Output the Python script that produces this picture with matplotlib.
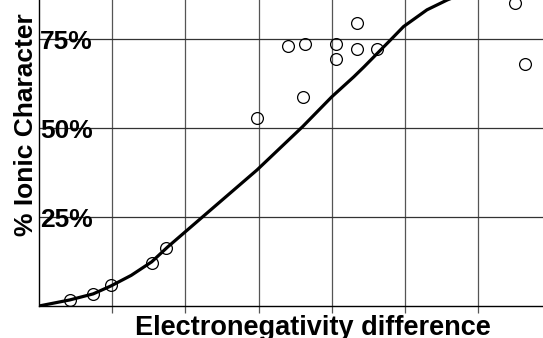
import matplotlib
matplotlib.use("Agg")
from matplotlib import pyplot as plt
import numpy as np

# measured compounds (electronegativity difference, % ionic character)
pts_x = [0.21, 0.37, 0.49, 0.77, 0.87, 1.49, 1.80, 1.70, 1.82, 2.03, 2.03,
         2.17, 2.17, 2.31, 3.25, 3.32]
pts_y = [1.7, 3.3, 5.9, 12.0, 16.4, 52.8, 58.6, 72.9, 73.6, 73.6, 69.2,
         79.3, 72.1, 72.1, 84.9, 67.9]

# the trend curve
curve_x = [0.0, 0.21, 0.37, 0.49, 0.63, 0.77, 0.88, 1.12, 1.49, 1.80, 2.00,
           2.15, 2.22, 2.40, 2.49, 2.65, 2.79, 2.95]
curve_y = [0.0, 1.7, 3.4, 5.6, 8.6, 12.4, 16.6, 25.1, 38.2, 50.3, 58.7,
           64.3, 67.1, 74.6, 78.4, 83.1, 85.9, 88.5]

y_ticks = [25, 50, 75]
y_labels = ["25%", "50%", "75%"]
x_grid = [0.5, 1.0, 1.5, 2.0, 2.5, 3.0]

W, H = 543, 338
fig = plt.figure(figsize=(W / 100, H / 100), dpi=100)
plt.rcParams['font.family'] = ['Liberation Sans', 'DejaVu Sans']

# axes runs past the top and right edges of the figure, like the source
px_x = 146.4   # pixels per unit of electronegativity
px_y = 3.564   # pixels per percent
ax = fig.add_axes([39 / W, 32 / H, 3.5 * px_x / W, 100 * px_y / H])
ax.set_xlim(0, 3.5)
ax.set_ylim(0, 100)

for x in x_grid:
    ax.axvline(x, color="#555555", lw=0.9, zorder=1)
for y in y_ticks:
    ax.axhline(y, color="#333333", lw=0.9, zorder=1)

ax.plot(curve_x, curve_y, color="black", lw=2.3, solid_joinstyle="round",
        zorder=3)
ax.plot(pts_x, pts_y, "o", ms=8.5, mfc="none", mec="black", mew=0.9,
        zorder=4)

for y, lab in zip(y_ticks, y_labels):
    ax.text(0.008, y - 1.0, lab, ha="left", va="center", fontsize=19,
            fontweight="bold", zorder=5)

ax.set_xticks(x_grid)
ax.set_xticklabels([])
ax.set_yticks([])
ax.tick_params(axis="x", direction="out", length=5, width=0.9,
               color="#555555")
for side in ["top", "right"]:
    ax.spines[side].set_visible(False)
ax.spines["left"].set_linewidth(1.0)
ax.spines["bottom"].set_linewidth(1.0)

fig.text(313 / W, 1 - 335 / H, "Electronegativity difference", ha="center",
         va="baseline", fontsize=19.5, fontweight="bold")
fig.text(33.5 / W, 1 - 124.5 / H, "% Ionic Character", rotation=90,
         rotation_mode="anchor", ha="center", va="baseline", fontsize=19,
         fontweight="bold")

fig.savefig("out.png", dpi=100)
